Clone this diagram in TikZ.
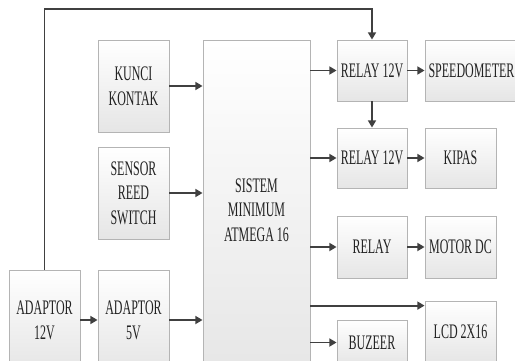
\documentclass[tikz,border=0pt]{standalone}
\usepackage{fontspec}
\setmainfont[FakeStretch=0.58]{Liberation Serif}
\usepackage{tikz}
\usetikzlibrary{arrows.meta,positioning,calc,shadows}
\usepackage{xcolor}
\definecolor{fline}{HTML}{404040}
\definecolor{fedge}{HTML}{B4B4B4}
\definecolor{ftext}{HTML}{222222}

\tikzset{
  blok/.style={rectangle, draw=fedge, line width=0.6pt, top color=white, bottom color=black!10,
    text=ftext, align=center, font=\fontsize{15.5}{18.5}\selectfont, inner sep=0pt,
    drop shadow={shadow xshift=0.8pt, shadow yshift=-0.8pt, opacity=0.25}},
  wh/.style 2 args={minimum width=#1*0.75pt, minimum height=#2*0.75pt},
  panah/.style={draw=fline, line width=1.4pt, -{Triangle[length=5.5pt,width=6pt]}}
}

\begin{document}
\begin{tikzpicture}[x=0.75pt, y=-0.75pt]
\useasboundingbox (0,0) rectangle (515,361);
\clip (0,0) rectangle (515,361);
% input blocks
\node[blok, wh={71}{92}] (kunci) at (133.5,86) {KUNCI\\KONTAK};
\node[blok, wh={71}{92}] (sensor) at (133.5,193) {SENSOR\\REED\\SWITCH};
\node[blok, wh={71}{100}] (adp12) at (44.5,320) {ADAPTOR\\12V};
\node[blok, wh={71}{100}] (adp5) at (133.5,320) {ADAPTOR\\5V};
% minimum system
\node[blok, wh={107}{340}] (mcu) at (256.5,210) {SISTEM\\MINIMUM\\ATMEGA 16};
% output blocks
\node[blok, wh={70}{61}] (relayA) at (372,70.5) {RELAY 12V};
\node[blok, wh={93}{61}] (speedo) at (471.5,70.5) {SPEEDOMETER};
\node[blok, wh={70}{60}] (relayB) at (372,158) {RELAY 12V};
\node[blok, wh={71}{60}] (kipas) at (460.5,158) {KIPAS};
\node[blok, wh={70}{62}] (relay) at (372,247) {RELAY};
\node[blok, wh={71}{62}] (motor) at (460.5,247) {MOTOR DC};
\node[blok, wh={71}{62}] (lcd) at (460.5,332) {LCD 2X16};
\node[blok, wh={70}{45}] (buzeer) at (372,342.5) {BUZEER};
% inputs to mcu
\foreach \n in {kunci,sensor,adp5}{
  \draw[panah] (\n.east) -- (\n -| mcu.west);}
\draw[panah] (adp12) -- (adp5);
% mcu to outputs
\foreach \n in {relayA,relayB,relay,buzeer}{
  \draw[panah] (\n -| mcu.east) -- (\n.west);}
\coordinate (lcdin) at ($(lcd.north west)+(0,5)$);
\draw[panah] (lcdin -| mcu.east) -- (lcdin);
\draw[panah] (relayA) -- (speedo);
\draw[panah] (relayB) -- (kipas);
\draw[panah] (relay) -- (motor);
\draw[panah] (relayA) -- (relayB);
% 12V supply line to relay
\coordinate (atas) at (200,9);
\draw[panah] (adp12.north) |- (atas) -| (relayA.north);
\end{tikzpicture}
\end{document}
